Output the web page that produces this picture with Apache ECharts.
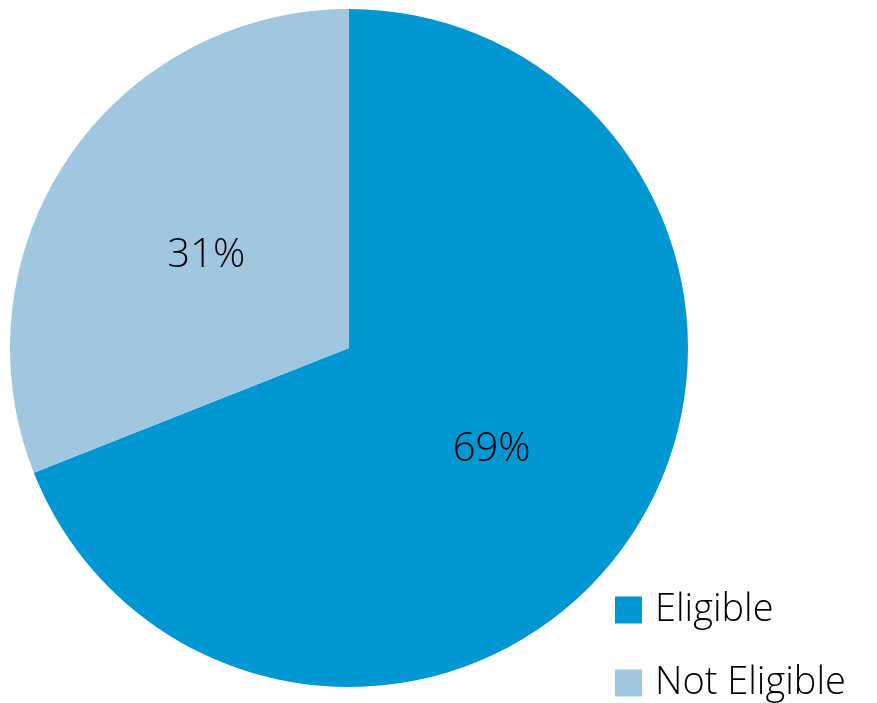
<!DOCTYPE html>
<html><head><meta charset="utf-8">
<script src="https://cdn.jsdelivr.net/npm/echarts@6/dist/echarts.min.js"></script>
<style>html,body{margin:0;padding:0;background:#fff}#c{width:877px;height:703px}</style>
</head><body><div id="c"></div>
<script>
const categories = ['Eligible', 'Not Eligible'];
const values = [69, 31];
const colors = ['#0097D3', '#A0C7DF'];
const legendTops = [590, 663];

const chart = echarts.init(document.getElementById('c'), null, {renderer: 'canvas'});
const legendBase = {
  orient: 'vertical',
  left: 615,
  padding: 0,
  itemWidth: 27,
  itemHeight: 27,
  icon: 'rect',
  textStyle: {
    fontFamily: 'Open Sans',
    fontWeight: 300,
    fontSize: 38,
    lineHeight: 40,
    color: '#000',
    padding: [0, 0, 0, 8]
  }
};
chart.setOption({
  animation: false,
  color: colors,
  legend: categories.map((c, i) => Object.assign({}, legendBase, {top: legendTops[i], data: [c]})),
  series: [{
    type: 'pie',
    center: [349, 348],
    radius: [0, 339],
    startAngle: 90,
    clockwise: true,
    data: categories.map((c, i) => ({name: c, value: values[i]})),
    itemStyle: {borderWidth: 0},
    label: {
      show: true,
      position: 'inside',
      formatter: p => p.value + '%',
      fontFamily: 'Open Sans',
      fontWeight: 300,
      fontSize: 40,
      offset: [0, 5],
      color: '#000'
    },
    labelLine: {show: false},
    emphasis: {disabled: true}
  }]
});
</script></body></html>
